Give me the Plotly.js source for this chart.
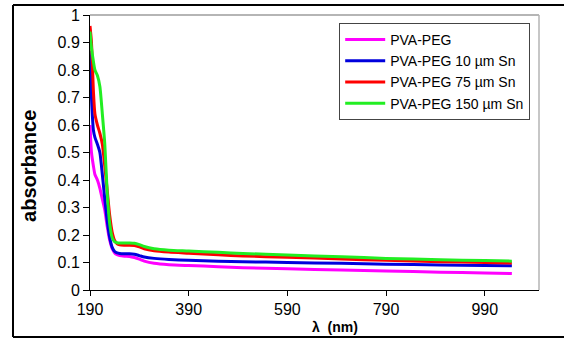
<!DOCTYPE html>
<html>
<head>
<meta charset="utf-8">
<script src="https://cdn.plot.ly/plotly-3.0.1.min.js"></script>
<style>html,body{margin:0;padding:0;background:#fff;}#chart{width:564px;height:339px;}</style>
</head>
<body>
<div id="chart"></div>
<script>
const wavelength = [190,193,197,200,205,210,215,220,225,230,235,240,245,250,260,270,280,290,300,320,350,390,450,500,590,700,790,900,990,1045];
const pvaPeg      = [0.60,0.50,0.45,0.42,0.40,0.37,0.33,0.29,0.23,0.18,0.15,0.135,0.128,0.125,0.123,0.122,0.118,0.112,0.105,0.097,0.092,0.089,0.085,0.081,0.077,0.073,0.069,0.065,0.062,0.060];
const pvaPeg10    = [0.87,0.70,0.58,0.555,0.53,0.50,0.42,0.33,0.25,0.19,0.155,0.14,0.135,0.133,0.132,0.132,0.130,0.125,0.120,0.115,0.111,0.108,0.105,0.103,0.100,0.097,0.094,0.091,0.089,0.088];
const pvaPeg75    = [0.96,0.90,0.72,0.64,0.60,0.57,0.53,0.45,0.36,0.27,0.21,0.18,0.168,0.164,0.163,0.163,0.162,0.157,0.150,0.143,0.138,0.134,0.128,0.124,0.119,0.113,0.108,0.103,0.100,0.098];
const pvaPeg150   = [0.94,0.88,0.83,0.80,0.78,0.74,0.64,0.53,0.35,0.24,0.19,0.175,0.172,0.171,0.171,0.171,0.170,0.165,0.158,0.150,0.145,0.142,0.137,0.133,0.127,0.121,0.115,0.110,0.107,0.105];
const seriesNames = ['PVA-PEG','PVA-PEG 10 µm Sn','PVA-PEG 75 µm Sn','PVA-PEG 150 µm Sn'];
const seriesColors = ['#ff00ff','#0000dd','#ff0000','#22ee22'];
const xTickVals = [190,390,590,790,990];
const yTickVals = [0,0.1,0.2,0.3,0.4,0.5,0.6,0.7,0.8,0.9,1];
const yTickText = ['0','0.1','0.2','0.3','0.4','0.5','0.6','0.7','0.8','0.9','1'];

const series = [pvaPeg, pvaPeg10, pvaPeg75, pvaPeg150];
const traces = series.map((ys, i) => ({
  x: wavelength, y: ys, type: 'scatter', mode: 'lines', name: seriesNames[i],
  line: {color: seriesColors[i], width: 3, shape: 'spline', smoothing: 0.6}
}));

const font = 'Liberation Sans, Arial, sans-serif';
const layout = {
  width: 564, height: 339,
  margin: {l: 90, r: 25, t: 15, b: 49},
  paper_bgcolor: '#fff', plot_bgcolor: '#fff',
  font: {family: font, color: '#000'},
  showlegend: true,
  legend: {
    x: 0.555, y: 0.971, xanchor: 'left', yanchor: 'top',
    bgcolor: '#fff', bordercolor: '#444', borderwidth: 1,
    font: {family: font, size: 14, color: '#000'},
    itemwidth: 40, tracegroupgap: 0
  },
  xaxis: {
    range: [190, 1100], tickvals: xTickVals, ticktext: xTickVals.map(String),
    showgrid: false, zeroline: false, showline: true, linecolor: '#000', linewidth: 1,
    ticks: 'outside', ticklen: 5, tickcolor: '#000', tickfont: {size: 16, family: font, color: '#000'}
  },
  yaxis: {
    range: [0, 1], tickvals: yTickVals, ticktext: yTickText,
    showgrid: false, zeroline: false, showline: true, linecolor: '#000', linewidth: 1,
    ticks: 'outside', ticklen: 6, tickcolor: '#000', tickfont: {size: 16, family: font, color: '#000'}
  },
  annotations: [{
    text: '<b>λ  (nm)</b>', xref: 'paper', yref: 'paper', x: 0.5457, y: -0.1345,
    xanchor: 'center', yanchor: 'middle', showarrow: false, font: {size: 14, family: font, color: '#000'}
  }, {
    text: '<b>absorbance</b>', xref: 'paper', yref: 'paper', x: -0.1359, y: 0.451, textangle: -90,
    xanchor: 'center', yanchor: 'middle', showarrow: false, font: {size: 20, family: font, color: '#000'}
  }],
  shapes: [
    {type: 'line', xref: 'paper', yref: 'paper', x0: 0, x1: 1, y0: 1, y1: 1, line: {color: '#b5b5b5', width: 2}},
    {type: 'line', xref: 'paper', yref: 'paper', x0: 1, x1: 1, y0: 0, y1: 1, line: {color: '#b5b5b5', width: 1.5}},
    {type: 'line', xref: 'paper', yref: 'paper', x0: -0.1715, x1: -0.1715, y0: -0.171, y1: 1.036, line: {color: '#000', width: 2}},
    {type: 'line', xref: 'paper', yref: 'paper', x0: -0.1715, x1: 1.06, y0: 1.036, y1: 1.036, line: {color: '#000', width: 2}},
    {type: 'line', xref: 'paper', yref: 'paper', x0: -0.1715, x1: 1.06, y0: -0.171, y1: -0.171, line: {color: '#000', width: 2}}
  ]
};
Plotly.newPlot('chart', traces, layout, {staticPlot: true, displayModeBar: false});
</script>
</body>
</html>
